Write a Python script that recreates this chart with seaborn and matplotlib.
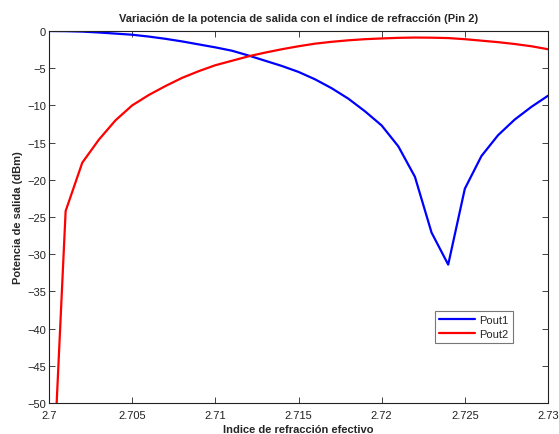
import numpy as np
import pandas as pd
import matplotlib
matplotlib.use("Agg")
import matplotlib.pyplot as plt
import seaborn as sns

# Data
n_eff = [2.700, 2.701, 2.702, 2.703, 2.704, 2.705, 2.706, 2.707, 2.708, 2.709,
         2.710, 2.711, 2.712, 2.713, 2.714, 2.715, 2.716, 2.717, 2.718, 2.719,
         2.720, 2.721, 2.722, 2.723, 2.724, 2.725, 2.726, 2.727, 2.728, 2.729,
         2.730]
pout1 = [0.0, -0.02, -0.08, -0.2, -0.35, -0.5, -0.75, -1.05, -1.4, -1.8,
         -2.2, -2.65, -3.3, -4.0, -4.7, -5.5, -6.5, -7.7, -9.1, -10.8,
         -12.7, -15.5, -19.6, -27.1, -31.4, -21.2, -16.8, -14.0, -11.9, -10.2,
         -8.7]
pout2 = [-72.0, -24.2, -17.7, -14.6, -12.0, -10.0, -8.6, -7.4, -6.3, -5.4,
         -4.6, -4.0, -3.4, -2.9, -2.45, -2.05, -1.7, -1.45, -1.25, -1.1,
         -1.0, -0.92, -0.88, -0.9, -0.95, -1.1, -1.3, -1.5, -1.75, -2.05,
         -2.45]
series_names = ["Pout1", "Pout2"]
x_ticks = [2.7, 2.705, 2.71, 2.715, 2.72, 2.725, 2.73]
x_tick_labels = ["2.7", "2.705", "2.71", "2.715", "2.72", "2.725", "2.73"]
y_ticks = list(range(0, -55, -5))

title = "Variación de la potencia de salida con el índice de refracción (Pin 2)"
xlabel = "Indice de refracción efectivo"
ylabel = "Potencia de salida (dBm)"

df = pd.DataFrame({
    "n": n_eff * 2,
    "P": pout1 + pout2,
    "serie": [series_names[0]] * len(n_eff) + [series_names[1]] * len(n_eff),
})

sns.set_style("ticks")
plt.rcParams["font.family"] = ["Liberation Sans", "DejaVu Sans"]
plt.rcParams["xtick.direction"] = "in"
plt.rcParams["ytick.direction"] = "in"

fig = plt.figure(figsize=(5.59, 4.35), dpi=100)
ax = fig.add_axes([49 / 559, 1 - 404 / 435, (548 - 49) / 559, (404 - 32) / 435])

sns.lineplot(data=df, x="n", y="P", hue="serie",
             palette={"Pout1": "#0000ff", "Pout2": "#ff0000"},
             linewidth=1.6, ax=ax, sort=False)

ax.set_xlim(2.7, 2.73)
ax.set_ylim(-50, 0)
ax.set_xticks(x_ticks)
ax.set_xticklabels(x_tick_labels)
ax.set_yticks(y_ticks)
ax.tick_params(axis="both", labelsize=8, length=4, width=0.6, colors="#222222",
               top=True, right=True)
ax.tick_params(axis="x", pad=5)
ax.tick_params(axis="y", pad=2)
for sp in ax.spines.values():
    sp.set_visible(True)
    sp.set_linewidth(0.8)
    sp.set_color("#222222")

ax.set_title(title, fontsize=8, fontweight="bold", pad=7)
ax.set_xlabel(xlabel, fontsize=8, fontweight="bold", labelpad=3)
ax.set_ylabel(ylabel, fontsize=8, fontweight="bold", labelpad=3)

leg = ax.legend(loc="upper left", bbox_to_anchor=(0.7615, 0.263), fontsize=8,
                frameon=True, fancybox=False, handlelength=3.2,
                borderpad=0.4, labelspacing=0.35, handletextpad=0.4)
leg.get_frame().set_edgecolor("#555555")
leg.get_frame().set_linewidth(0.8)
leg.set_title(None)

fig.savefig("out.png", dpi=100, facecolor="white")
